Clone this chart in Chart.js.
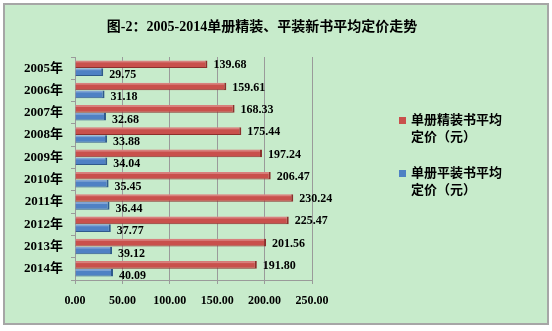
<!DOCTYPE html>
<html>
<head>
<meta charset="utf-8">
<script src="https://cdn.jsdelivr.net/npm/chart.js@4/dist/chart.umd.min.js"></script>
<style>
  html, body { margin: 0; padding: 0; background: #ffffff; }
  #wrap { width: 552px; height: 331px; }
</style>
</head>
<body>
<div id="wrap"><canvas id="priceChart"></canvas></div>
<script>
// 单册精装 / 平装新书平均定价（元），2005-2014
const years = ["2005年", "2006年", "2007年", "2008年", "2009年",
               "2010年", "2011年", "2012年", "2013年", "2014年"];
const hardcoverPrices = [139.68, 159.61, 168.33, 175.44, 197.24, 206.47, 230.24, 225.47, 201.56, 191.80];
const paperbackPrices = [29.75, 31.18, 32.68, 33.88, 34.04, 35.45, 36.44, 37.77, 39.12, 40.09];
const priceTicks = [0, 50, 100, 150, 200, 250];
const seriesNames = [["单册精装书平均", "定价（元）"], ["单册平装书平均", "定价（元）"]];
const titleText = "图-2：2005-2014单册精装、平装新书平均定价走势";

const FONT = "'Liberation Serif', 'Noto Sans CJK SC', serif";
const RED = "#c9504c";
const BLUE = "#4f81c4";

/** ===== frame, title and legend ===== */
const framePlugin = {
    id: "frame",
    beforeDraw(chart) {
        const { ctx, width, height } = chart;
        ctx.save();
        ctx.fillStyle = "#ffffff";
        ctx.fillRect(0, 0, width, height);
        ctx.fillStyle = "#c7ebcb";
        ctx.fillRect(4, 4, 544, 320);
        ctx.strokeStyle = "#a6a6a6";
        ctx.lineWidth = 2;
        ctx.strokeRect(4, 4, 544, 320);

        ctx.fillStyle = "#000000";
        ctx.font = "bold 14px " + FONT;
        ctx.textAlign = "center";
        ctx.textBaseline = "middle";
        ctx.fillText(titleText, 262, 27);
        ctx.restore();
    },
    afterDraw(chart) {
        const { ctx } = chart;
        const tops = [121, 174];
        ctx.save();
        ctx.font = "bold 13px " + FONT;
        ctx.textAlign = "left";
        ctx.textBaseline = "middle";
        chart.data.datasets.forEach((ds, i) => {
            const y = tops[i];
            ctx.fillStyle = ds.backgroundColor;
            ctx.fillRect(399, y - 4, 7, 7);
            ctx.fillStyle = "#000000";
            seriesNames[i].forEach((line, j) => {
                ctx.fillText(line, 411, y + j * 17);
            });
        });
        ctx.restore();
    }
};

/** ===== light top face on each bar, then value labels ===== */
const valueLabelPlugin = {
    id: "valueLabels",
    afterDatasetsDraw(chart) {
        const { ctx } = chart;
        ctx.save();
        chart.data.datasets.forEach((ds, i) => {
            const meta = chart.getDatasetMeta(i);
            meta.data.forEach((bar) => {
                const top = bar.y - bar.height / 2;
                ctx.fillStyle = "rgba(255,255,255,0.28)";
                ctx.fillRect(bar.base, top, bar.x - bar.base - 2, 2);
            });
        });

        ctx.font = "bold 12px " + FONT;
        ctx.fillStyle = "#000000";
        ctx.textAlign = "left";
        ctx.textBaseline = "middle";
        chart.data.datasets.forEach((ds, i) => {
            const meta = chart.getDatasetMeta(i);
            meta.data.forEach((bar, j) => {
                const dy = i === 0 ? 1 : 3;
                ctx.fillText(ds.data[j].toFixed(2), bar.x + 6, bar.y + dy);
            });
        });
        ctx.restore();
    }
};

const ctx = document.getElementById("priceChart").getContext("2d");

new Chart(ctx, {
    type: "bar",
    data: {
        labels: years,
        datasets: [
            {
                label: seriesNames[0].join(""),
                data: hardcoverPrices,
                backgroundColor: RED,
                borderColor: "#8c2f2c",
                borderWidth: { top: 0, right: 2, bottom: 1, left: 0 },
                borderSkipped: "left",
            },
            {
                label: seriesNames[1].join(""),
                data: paperbackPrices,
                backgroundColor: BLUE,
                borderColor: "#2f5a8c",
                borderWidth: { top: 0, right: 2, bottom: 1, left: 0 },
                borderSkipped: "left",
            },
        ],
    },
    options: {
        indexAxis: "y",
        responsive: true,
        maintainAspectRatio: false,
        animation: false,
        categoryPercentage: 0.7,
        barPercentage: 0.98,
        layout: { padding: { top: 57, right: 240, bottom: 0, left: 0 } },
        plugins: {
            legend: { display: false },
            tooltip: { enabled: false },
        },
        scales: {
            x: {
                min: priceTicks[0],
                max: priceTicks[priceTicks.length - 1],
                afterBuildTicks: (scale) => {
                    scale.ticks = priceTicks.map((v) => ({ value: v }));
                },
                afterFit: (scale) => { scale.height = 51; },
                ticks: {
                    callback: (value) => Number(value).toFixed(2),
                    color: "#000000",
                    font: { family: FONT, size: 12, weight: "bold" },
                    padding: 10,
                    maxRotation: 0,
                },
                grid: {
                    color: "#9a9a9a",
                    tickLength: 4,
                },
                border: { color: "#9a9a9a" },
            },
            y: {
                afterFit: (scale) => { scale.width = 75; },
                ticks: {
                    color: "#000000",
                    font: { family: FONT, size: 13, weight: "bold" },
                    padding: 8,
                },
                grid: {
                    drawOnChartArea: false,
                    color: "#9a9a9a",
                    tickLength: 4,
                    offset: true,
                },
                border: { color: "#9a9a9a" },
            },
        },
    },
    plugins: [framePlugin, valueLabelPlugin],
});
</script>
</body>
</html>
